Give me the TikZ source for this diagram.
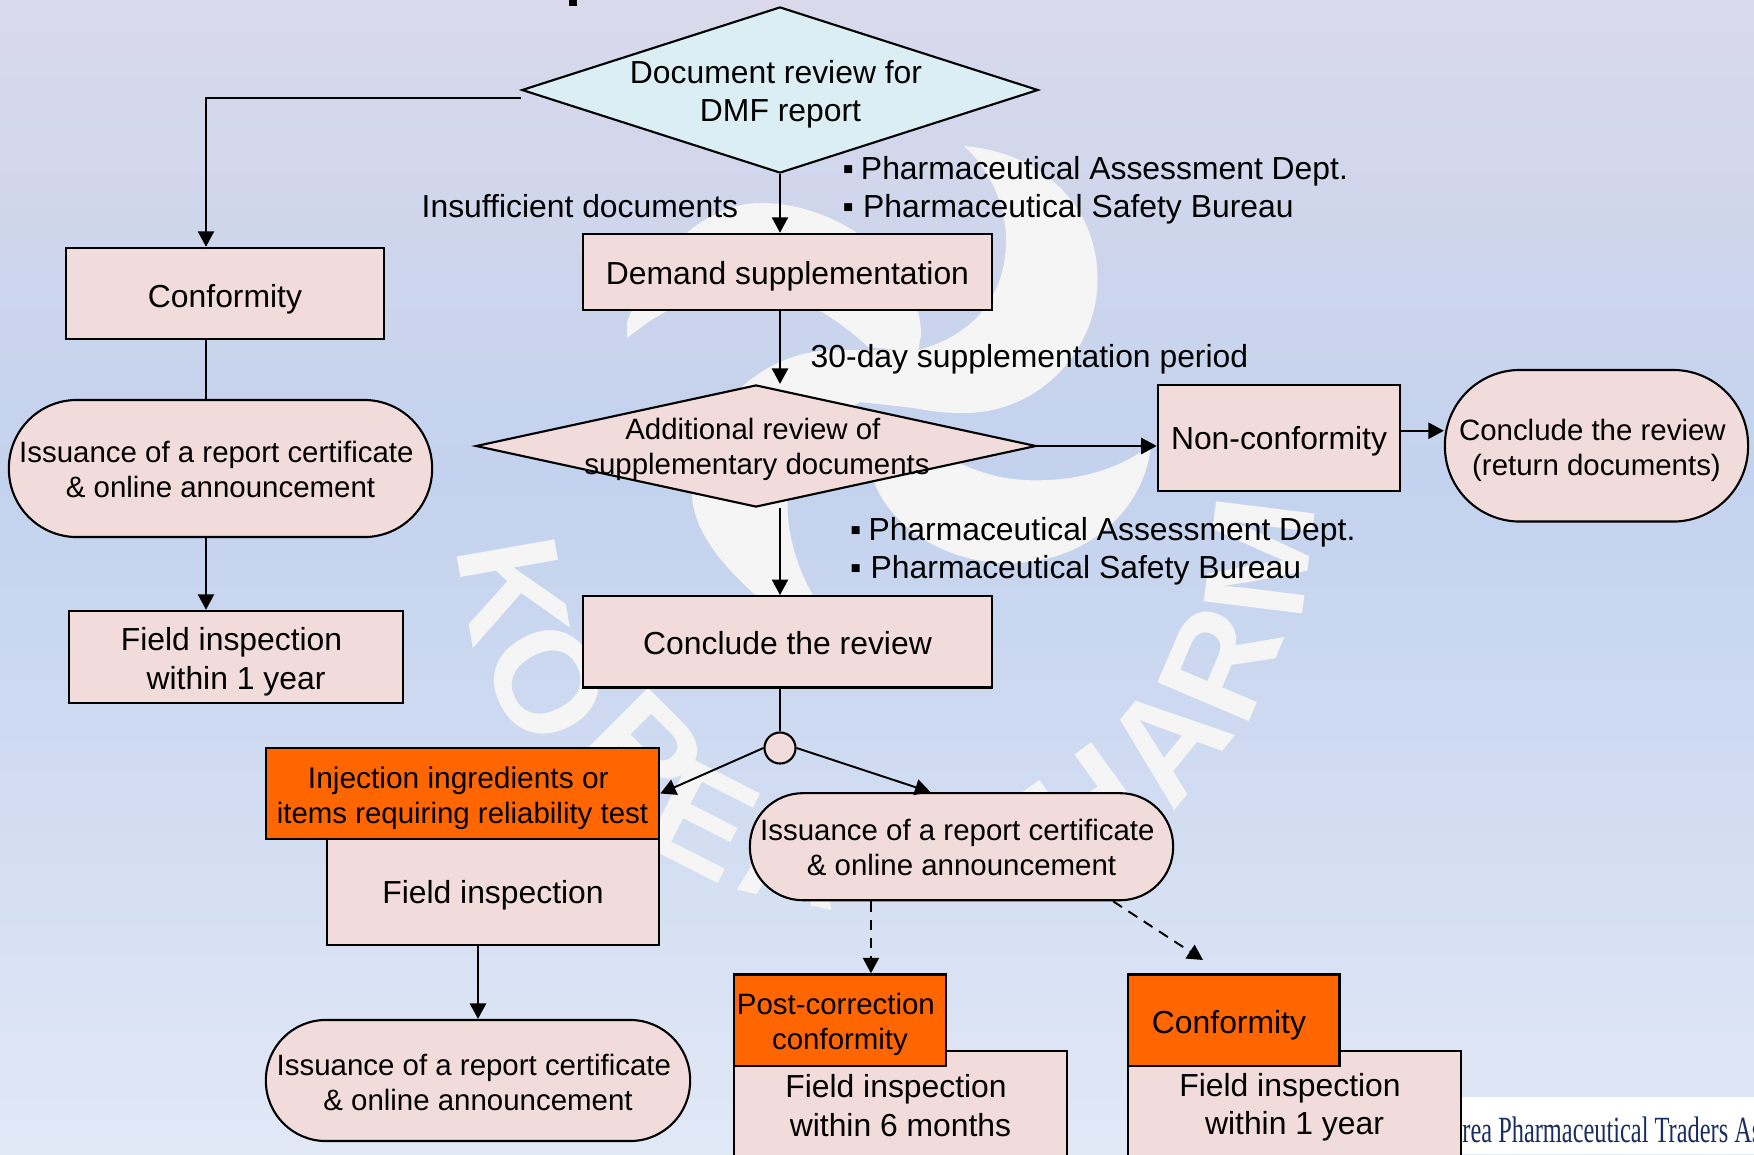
\documentclass[tikz,border=0pt]{standalone}
\usepackage{fontspec}
\setmainfont{Liberation Sans}
\newfontfamily\logofont{Liberation Serif}
\usepackage{tikz}
\usetikzlibrary{shapes.geometric, arrows.meta, positioning}
\definecolor{BgTop}{RGB}{217,217,235}
\definecolor{BgMid}{RGB}{195,210,238}
\definecolor{BgEnd}{RGB}{225,232,246}
\definecolor{PinkFill}{RGB}{242,220,219}
\definecolor{BlueFill}{RGB}{218,238,243}
\definecolor{OrangeFill}{RGB}{255,102,0}
\definecolor{WaterFill}{RGB}{245,245,245}
\definecolor{LogoInk}{RGB}{26,45,95}
\newcommand{\lsp}{\kern.28em}
\newcommand{\dropline}[1]{\rule{0pt}{\dimexpr.73em+2\dimexpr#1\relax\relax}}
\tikzset{
  BigText/.style = {font=\fontsize{9.06}{11}\selectfont},
  SmallText/.style = {font=\fontsize{8.37}{9.96}\selectfont},
  Plain/.style = {draw, line width=.7pt, fill=PinkFill, inner sep=0pt, align=center, BigText},
  Flag/.style = {Plain, fill=OrangeFill},
  Pill/.style = {Plain, SmallText, line width=.6pt, rounded corners=#1},
  Free/.style = {inner sep=0pt, align=left, BigText},
  Arrow2/.style = {
    draw, line width=.55pt,
    -{Triangle[length=4.4pt, width=4.6pt]},
  },
  Arrow3/.style = {Arrow2, dash pattern=on 3pt off 2.2pt},
  Stub/.style = {draw, line width=.55pt},
}

\begin{document}
\begin{tikzpicture}[x=0.01cm, y=-0.01cm]
      \useasboundingbox (0,0) rectangle (1754,1154);
      \clip (0,0) rectangle (1754,1154);
      \fill[top color=BgTop, bottom color=BgMid] (0,0) rectangle (1754,480);
      \fill[top color=BgMid, bottom color=BgEnd] (0,480) rectangle (1754,1154);
      \fill[WaterFill] (964,146) .. controls (1040,152) and (1098,205) .. (1097.5,280)
        .. controls (1097,350) and (1040,413) .. (964,413) .. controls (945,413) and (928,411) .. (914,408)
        -- (918,350) .. controls (975,335) and (1006,295) .. (1006,240) .. controls (1006,205) and (990,170) .. (964,146) -- cycle;
      \fill[WaterFill] (627,338) -- (627,322) .. controls (650,260) and (700,203) .. (761,203)
        .. controls (840,203) and (921,265) .. (921,335) -- (918,352) -- (868,347)
        .. controls (852,332) and (838,322) .. (822,312) .. controls (770,280) and (700,290) .. (665,312)
        .. controls (650,320) and (640,328) .. (627,338) -- cycle;
      \fill[WaterFill] (761,600) .. controls (715,560) and (692,525) .. (692,493)
        .. controls (692,430) and (745,355) .. (830,350) -- (930,350) -- (964,405) -- (914,408) -- (860,402)
        .. controls (815,430) and (787,465) .. (787.5,507) .. controls (788,540) and (800,575) .. (816,600) -- cycle;
      \fill[WaterFill] (1151,445) .. controls (1145,510) and (1085,566) .. (1002,563)
        .. controls (930,560) and (868,510) .. (868,450) -- (937,450)
        .. controls (975,475) and (1010,482) .. (1048,480) .. controls (1090,478) and (1125,465) .. (1151,445) -- cycle;
      \foreach \ltr/\lx/\ly/\lrot [count=\i] in {K/513/590/-80, O/547/683/-62, R/643/753/-45, E/703/820/-27, A/795/852/-12,
          H/1086/808/36, A/1167/742/51, R/1220/663/67, M/1260/558/83}
        \node[inner sep=0pt, text=WaterFill, rotate=\lrot, font=\fontsize{41}{41}\selectfont\bfseries] (mark\i) at (\lx,\ly) {\ltr};
      \fill[black] (569,0) rectangle (577,6);
      \fill[white] (1461,1097) rectangle (1754,1154);
      \node[anchor=base west, inner sep=0pt, text=LogoInk, xscale=.66, font=\fontsize{10.5}{10.5}\selectfont\logofont] (logo) at (1462,1142.5) {rea Pharmaceutical Traders As};

      \node[diamond, Plain, line width=.6pt, fill=BlueFill, minimum width=5.16cm, minimum height=1.66cm] (review) at (780,90) {};
      \node[Plain, draw=none, fill=none] (reviewtext) at (780.5,94.4) {Document review for\lsp\\DMF report};
      \node[Plain, minimum width=3.18cm, minimum height=.91cm] (conform) at (225,293.5) {\dropline{1.6pt}Conformity};
      \node[Plain, minimum width=4.09cm, minimum height=.76cm] (demand) at (787.5,272) {\dropline{1.27pt}Demand supplementation};
      \node[diamond, Plain, line width=.6pt, minimum width=5.6cm, minimum height=1.22cm] (additional) at (756,446) {};
      \node[Plain, SmallText, draw=none, fill=none] (additionaltext) at (757,449) {Additional review of\lsp\\supplementary documents};
      \node[Plain, minimum width=2.42cm, minimum height=1.06cm] (nonconf) at (1279,438) {\dropline{1pt}Non-conformity};
      \node[Pill=.75cm, minimum width=3.03cm, minimum height=1.515cm] (endrev) at (1596.5,445.75) {\dropline{1.27pt}Conclude the review\lsp\\(return documents)};
      \node[Pill=.68cm, minimum width=4.23cm, minimum height=1.37cm] (issue1) at (220.5,468.5) {\dropline{.3pt}Issuance of a report certificate\lsp\\\& online announcement};
      \node[Plain, minimum width=3.34cm, minimum height=.92cm] (field1) at (236,657) {\dropline{1.4pt}Field inspection\lsp\\within 1 year};
      \node[Plain, minimum width=4.09cm, minimum height=.91cm] (finish) at (787.5,641.75) {\dropline{.3pt}Conclude the review};
      \node[circle, Plain, line width=.6pt, minimum size=.31cm] (split) at (780,748) {};
      \node[Flag, SmallText, minimum width=3.93cm, minimum height=.91cm] (flagA) at (462.5,793.5) {\fontsize{8.5}{9.96}\selectfont\dropline{1.27pt}Injection ingredients or\lsp\\items requiring reliability test};
      \node[Plain, minimum width=3.32cm, minimum height=1.06cm] (fieldA) at (493,892) {\dropline{1pt}Field inspection};
      \node[Pill=.6cm, minimum width=4.24cm, minimum height=1.21cm] (issue3) at (478,1080.5) {\dropline{.6pt}Issuance of a report certificate\lsp\\\& online announcement};
      \node[Pill=.53cm, minimum width=4.23cm, minimum height=1.07cm] (issue2) at (961.5,846.7) {\dropline{.3pt}Issuance of a report certificate\lsp\\\& online announcement};
      \node[Plain, minimum width=3.33cm, minimum height=1.09cm] (fieldB) at (900.5,1105.5) {Field inspection\lsp\\within 6 months};
      \node[Flag, SmallText, minimum width=2.12cm, minimum height=.915cm] (flagB) at (840,1020.25) {\dropline{1.27pt}Post-correction\lsp\\conformity};
      \node[Plain, minimum width=3.33cm, minimum height=1.09cm] (fieldC) at (1294.5,1105.5) {\dropline{.5pt}Field inspection\lsp\\within 1 year};
      \node[Flag, minimum width=2.115cm, minimum height=.915cm] (flagC) at (1233.75,1020.25) {\dropline{1.27pt}Conformity\kern.3em};
      \node[Free, anchor=west] (insuff) at (421,206) {Insufficient documents};
      \node[Free, anchor=north west] (deptA) at (842,155.5) {▪\hspace{.22em}Pharmaceutical Assessment Dept.\\▪\hspace{.29em}Pharmaceutical Safety Bureau};
      \node[Free, anchor=west] (period) at (810,359) {30-day supplementation period};
      \node[Free, anchor=north west] (deptB) at (849.5,516.5) {▪\hspace{.22em}Pharmaceutical Assessment Dept.\\▪\hspace{.29em}Pharmaceutical Safety Bureau};
      \coordinate (dashend) at (1203,960);

      \draw[Arrow2] ([yshift=-.08cm]review.west) -| ([xshift=-.19cm]conform.north);
      \draw[Stub] ([xshift=-.19cm]conform.south) -- ([xshift=-.19cm]conform.south |- issue1.north);
      \draw[Arrow2] ([xshift=-.19cm]conform.south |- issue1.south) -- ([xshift=-.19cm]conform.south |- field1.north);
      \draw[Arrow2] (review.south) -- (review.south |- demand.north);
      \draw[Arrow2] (review.south |- demand.south) -- (review.south |- additional.north);
      \draw[Arrow2] (review.south |- additional.south) -- (review.south |- finish.north);
      \draw[Arrow2] (additional.east) -- (nonconf.west |- additional.east);
      \draw[Arrow2] ([yshift=.15cm]nonconf.east |- endrev.west) -- ([yshift=.15cm]endrev.west);
      \draw[Stub] (review.south |- finish.south) -- (split.north);
      \draw[Arrow2] (split.west) -- (flagA.east);
      \draw[Arrow2] (split.east) -- ([xshift=-.31cm]issue2.north);
      \draw[Arrow2] (issue3.north |- fieldA.south) -- (issue3.north);
      \draw[Arrow3] ([xshift=-.905cm]issue2.south) -- ([xshift=-.905cm]issue2.south |- flagB.north);
      \draw[Arrow3] ([xshift=1.515cm]issue2.south) -- (dashend);
    \end{tikzpicture}
\end{document}
